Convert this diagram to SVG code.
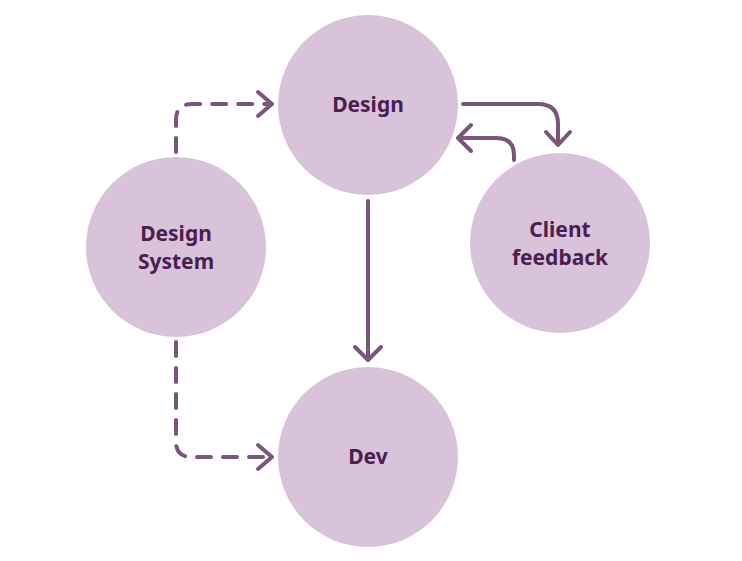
<svg xmlns="http://www.w3.org/2000/svg" width="742" height="561" viewBox="0 0 742 561">
<style>
.node{fill:#d9c3da}
.lbl{font-family:"Noto Sans","Open Sans",sans-serif;font-weight:700;font-size:21px;fill:#4b1d50;text-anchor:middle}
.c{fill:none;stroke:#7a557c;stroke-width:4;stroke-linecap:round;stroke-linejoin:round}
.d{stroke-dasharray:14 12}
</style>
<rect width="742" height="561" fill="#ffffff"/>
<g id="design"><circle class="node" cx="368" cy="105" r="90"/><text class="lbl" x="368" y="112">Design</text></g>
<g id="design-system"><circle class="node" cx="176" cy="247" r="90"/><text class="lbl" x="176" y="241">Design</text><text class="lbl" x="176" y="269">System</text></g>
<g id="client-feedback"><circle class="node" cx="560" cy="243" r="90"/><text class="lbl" x="560" y="237">Client</text><text class="lbl" x="560" y="265">feedback</text></g>
<g id="dev"><circle class="node" cx="368" cy="457" r="90"/><text class="lbl" x="368" y="464">Dev</text></g>
<g id="connectors">
<path class="c d" d="M176 152 V120 Q176 104 192 104 H270"/>
<path class="c" d="M258 92 L272 104 L258 116"/>
<path class="c d" d="M176 342 V442 Q176 457 192 457 H270"/>
<path class="c" d="M258 445 L272 457 L258 469"/>
<path class="c" d="M368 201 V359"/>
<path class="c" d="M355 347 L368 360 L381 347"/>
<path class="c" d="M463 104 H538 Q558 104 558 124 V144"/>
<path class="c" d="M546 132 L558 145 L570 132"/>
<path class="c" d="M514 160 V155 Q514 138 496 138 H459"/>
<path class="c" d="M471 125 L458 138 L471 151"/>
</g>
</svg>
